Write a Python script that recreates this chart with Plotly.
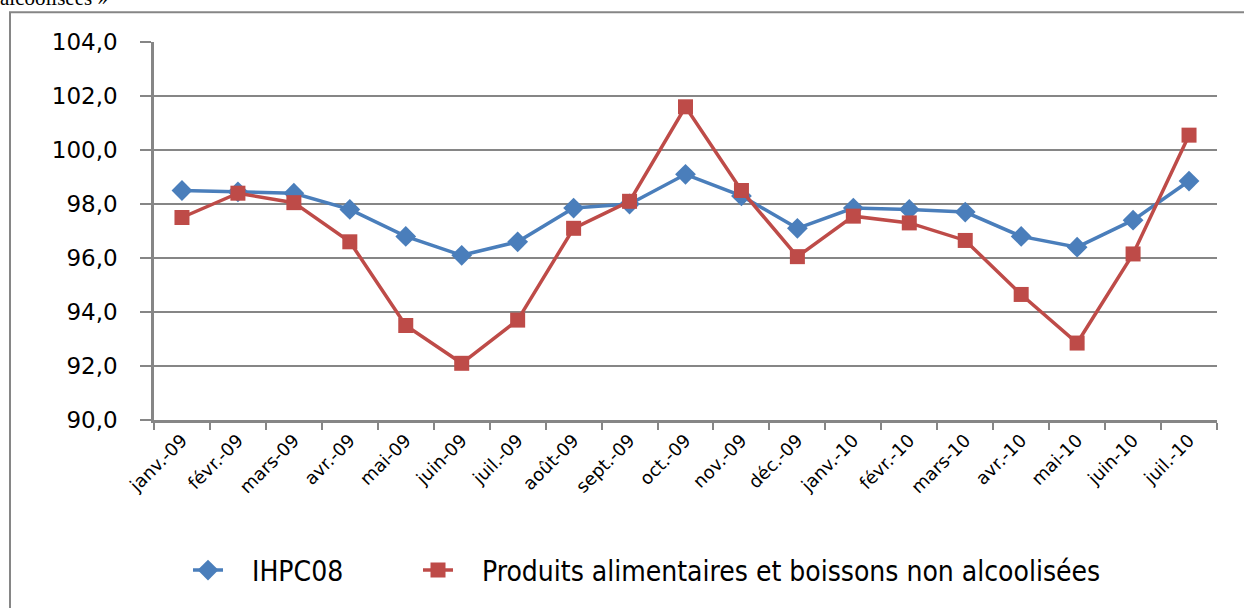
import plotly.graph_objects as go

months = ["janv.-09", "févr.-09", "mars-09", "avr.-09", "mai-09", "juin-09", "juil.-09",
          "août-09", "sept.-09", "oct.-09", "nov.-09", "déc.-09", "janv.-10", "févr.-10",
          "mars-10", "avr.-10", "mai-10", "juin-10", "juil.-10"]

ihpc08 = [98.5, 98.45, 98.4, 97.8, 96.8, 96.1, 96.6, 97.85, 98.0, 99.1, 98.3, 97.1,
          97.85, 97.8, 97.7, 96.8, 96.4, 97.4, 98.85]

alim = [97.5, 98.4, 98.05, 96.6, 93.5, 92.1, 93.7, 97.1, 98.1, 101.6, 98.5, 96.05,
        97.55, 97.3, 96.65, 94.65, 92.85, 96.15, 100.55]

y_ticks = [90, 92, 94, 96, 98, 100, 102, 104]

BLUE = "#4A7EBB"
RED = "#BE4B48"
GREY = "#868686"
PAD = "\u00a0\u00a0\u00a0"

fig = go.Figure()
fig.add_trace(go.Scatter(
    x=months, y=ihpc08, name=PAD + "IHPC08", mode="lines+markers",
    line=dict(color=BLUE, width=3.5),
    marker=dict(symbol="diamond", size=16, color=BLUE),
    legend="legend",
))
fig.add_trace(go.Scatter(
    x=months, y=alim, name=PAD + "Produits alimentaires et boissons non alcoolisées",
    mode="lines+markers",
    line=dict(color=RED, width=3.5),
    marker=dict(symbol="square", size=15, color=RED),
    legend="legend2",
))

L, R, T, B = 154, 27, 42, 184
W, H = 1244, 608
pw, ph = W - L - R, H - T - B

def px(xp):
    return (xp - L) / pw

def py(yp):
    return (H - B - yp) / ph

legend_font = dict(family="DejaVu Sans Condensed", size=28, color="black")

fig.update_layout(
    width=W, height=H,
    margin=dict(l=L, r=R, t=T, b=B, pad=0),
    paper_bgcolor="white", plot_bgcolor="white",
    separators=", ",
    showlegend=True,
    legend=dict(orientation="h", x=px(188), xanchor="left", y=py(576), yanchor="middle",
                font=legend_font, bgcolor="rgba(0,0,0,0)"),
    legend2=dict(orientation="h", x=px(418), xanchor="left", y=py(576), yanchor="middle",
                 font=legend_font, bgcolor="rgba(0,0,0,0)"),
    font=dict(family="DejaVu Sans", color="black"),
    shapes=[dict(type="rect", xref="paper", yref="paper",
                 x0=px(10), x1=px(1270), y0=py(640), y1=py(12),
                 line=dict(color=GREY, width=2), fillcolor="rgba(0,0,0,0)", layer="below")],
    annotations=[dict(text="alcoolisées »", xref="paper", yref="paper",
                      x=px(-2), y=py(12), xanchor="left", yanchor="bottom",
                      showarrow=False, font=dict(family="Liberation Serif", size=21, color="black"))],
)

fig.update_xaxes(
    type="category", tickson="boundaries", ticks="outside", ticklen=7, tickwidth=2,
    tickcolor=GREY, showline=True, linecolor=GREY, linewidth=2.5, showgrid=False,
    tickangle=-45, tickfont=dict(family="DejaVu Sans", size=18, color="black"),
    range=[-0.5, len(months) - 0.5], mirror=False,
)
fig.update_yaxes(
    range=[90, 104], tickvals=y_ticks, tickformat=".1f", ticks="outside", ticklen=11,
    tickwidth=2, tickcolor=GREY, showline=True, linecolor=GREY, linewidth=2.5,
    showgrid=True, gridcolor=GREY, gridwidth=2, zeroline=False,
    tickfont=dict(family="DejaVu Sans", size=23, color="black"), ticklabelstandoff=18,
)

fig.write_html("out.html", config={"displayModeBar": False},
               post_script="document.body.style.margin='0';document.body.style.overflow='hidden';")
